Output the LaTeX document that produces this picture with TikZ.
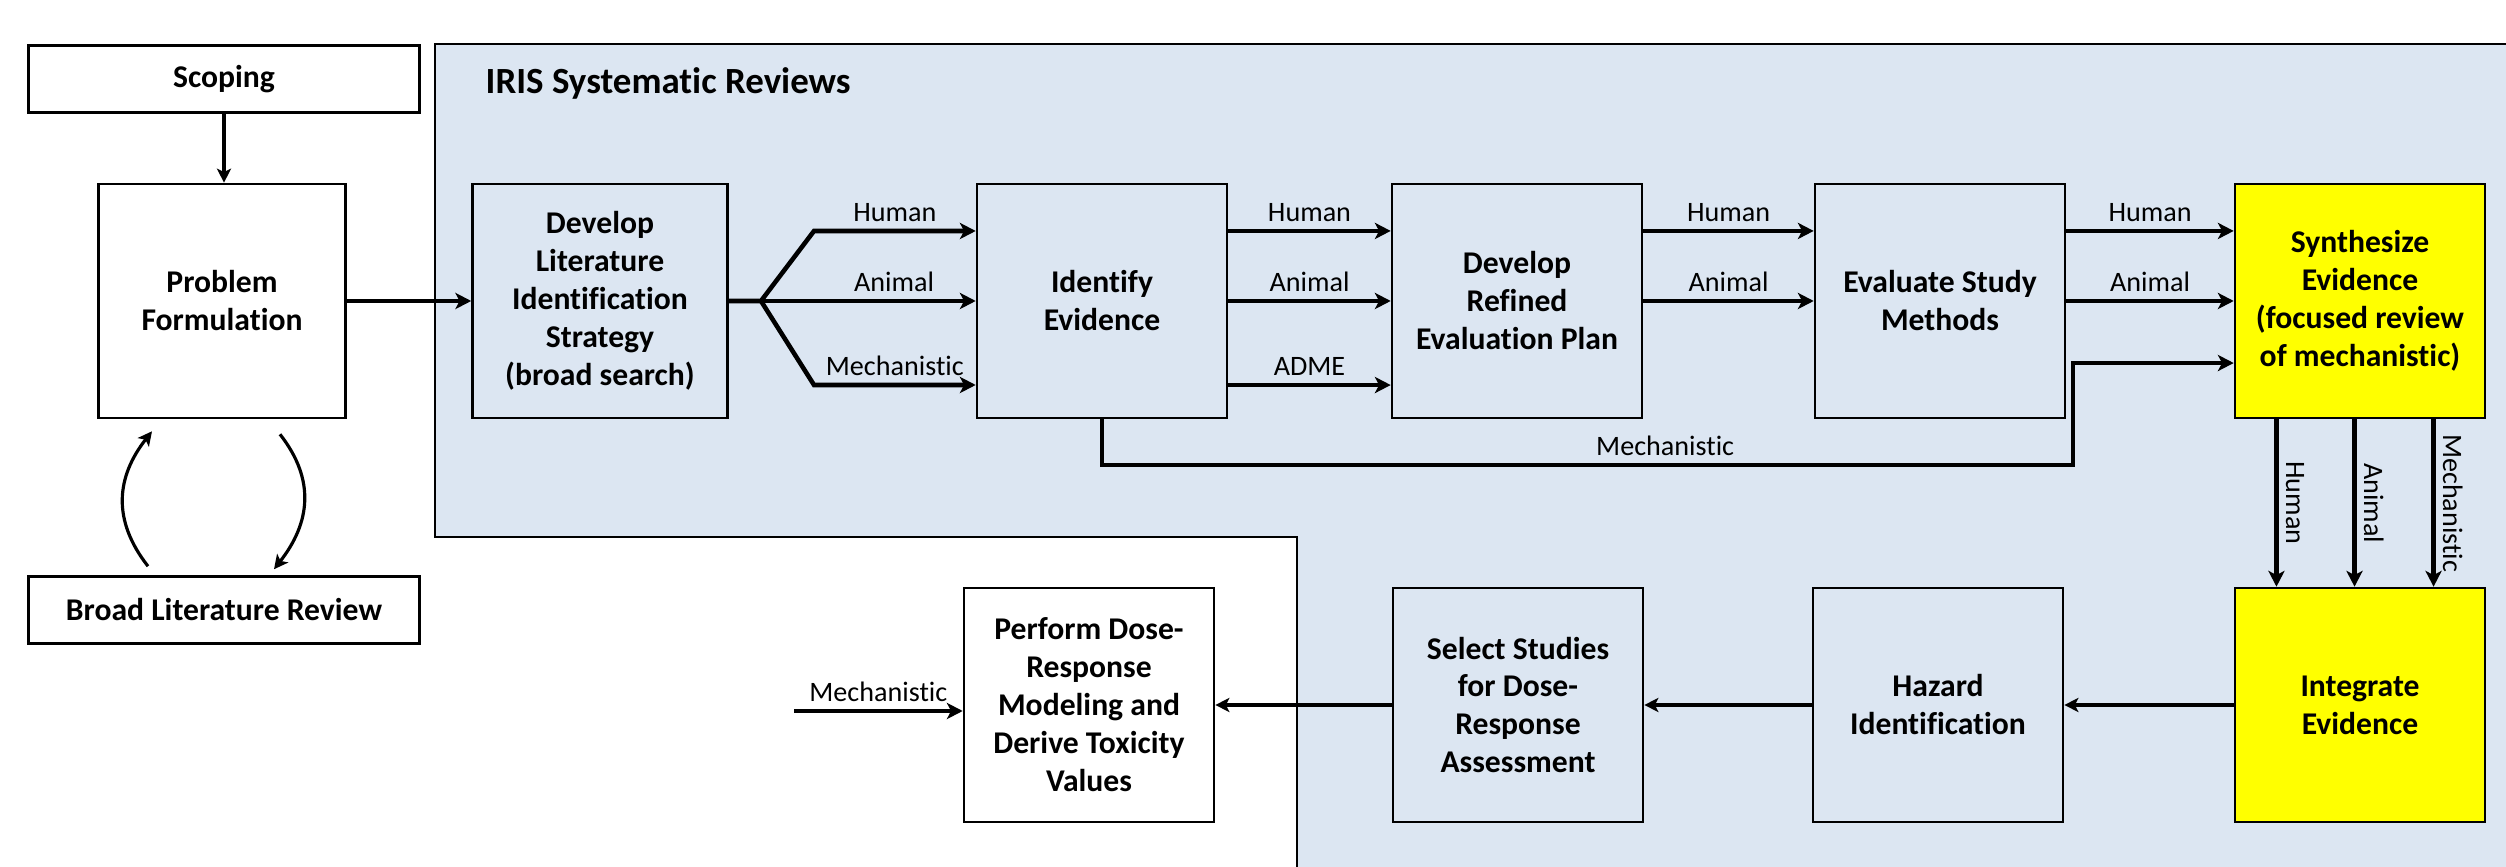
\documentclass[tikz,border=0pt]{standalone}
\usepackage{fontspec}
\setmainfont{Carlito}[Ligatures=NoCommon]
\usepackage{xcolor}
\usetikzlibrary{arrows.meta}
\usetikzlibrary{calc}
\definecolor{irisblue}{HTML}{DCE6F2}
\definecolor{hiyellow}{HTML}{FFFF00}

\begin{document}
\begin{tikzpicture}[x=0.01cm, y=0.01cm,
    >={Stealth[length=4.5pt, width=4.6pt, inset=1.2pt]},
    box/.style={draw, line width=0.7pt, fill=white, align=center, minimum width=2.5cm, minimum height=2.34cm, font=\fontsize{9}{10.8}\selectfont\bfseries},
    bluebox/.style={box, fill=irisblue},
    hibox/.style={box, fill=hiyellow},
    flow/.style={->, line width=1.3pt},
    thinflow/.style={->, line width=0.9pt, >={Stealth[length=4pt, width=4pt, inset=1pt]}},
    lbl/.style={midway, above, inner sep=2pt, font=\fontsize{8}{9.6}\selectfont},
    vlbl/.style={midway, anchor=south, rotate=-90, inner sep=2pt, font=\fontsize{8}{9.6}\selectfont},
    title/.style={inner sep=0pt, font=\fontsize{10.5}{12.6}\selectfont\bfseries}]
              \useasboundingbox (0,0) rectangle (2506,867);
              \fill[irisblue] (435,823) -- (2506,823) -- (2506,0) -- (1297,0) -- (1297,330) -- (435,330) -- cycle;
              \draw[line width=0.8pt] (2506,823) -- (435,823) -- (435,330) -- (1297,330) -- (1297,0);
              \node[title, anchor=west] (iris) at (485,784) {IRIS Systematic Reviews};

              \node[box, minimum width=3.91cm, minimum height=0.67cm] (scoping) at (224,788) {Scoping};
              \node[box, minimum width=2.47cm] (problem) at (222,566) {Problem\\Formulation};
              \node[box, minimum width=3.91cm, minimum height=0.67cm] (broad) at (224,257) {Broad Literature Review};

              \node[bluebox, minimum width=2.55cm] (dlis) at (600,566) {Develop\\Literature\\Identification\\Strategy\\(broad search)};
              \node[bluebox] (ident) at (1102,566) {Identify\\Evidence};
              \node[bluebox] (refined) at (1517,566) {Develop\\Refined\\Evaluation Plan};
              \node[bluebox] (evalm) at (1940,566) {Evaluate Study\\Methods};
              \node[hibox] (synth) at (2360,566) {Synthesize\\Evidence\\(focused review\\of mechanistic)};

              \node[hibox] (integ) at (2360,162) {Integrate\\Evidence};
              \node[bluebox] (hazard) at (1938,162) {Hazard\\Identification};
              \node[bluebox] (select) at (1518,162) {Select Studies\\for Dose-\\Response\\Assessment};
              \node[box] (perform) at (1089,162) {Perform Dose-\\Response\\Modeling and\\Derive Toxicity\\Values};

              \coordinate (fork) at (761,566);
              \coordinate (forkh) at (814,636);
              \coordinate (forkm) at (814,482);
              \coordinate (mechturn) at (2073,402);
              \coordinate (mechin) at (794,156);

              \draw[thinflow] (scoping.south) -- (scoping.south |- problem.north);
              \draw[thinflow] ($(broad.north)+(-76,9)$) .. controls +(-36,46) and +(-36,-46) .. ($(problem.south)+(-70,-12)$);
              \draw[thinflow] ($(problem.south)+(58,-15)$) .. controls +(36,-46) and +(36,46) .. ($(broad.north)+(50,6)$);
              \draw[flow] (problem.east) -- (dlis.west);

              \draw[flow] (dlis.east) -- (fork) -- (forkh) -- (forkh -| ident.west) node[lbl]{Human};
              \draw[flow] (fork) -- (ident.west) node[lbl, pos=0.62]{Animal};
              \draw[flow] (fork) -- (forkm) -- (forkm -| ident.west) node[lbl]{Mechanistic};

              \draw[flow] ([yshift=7mm]ident.east) -- ([yshift=7mm]refined.west) node[lbl]{Human};
              \draw[flow] (ident.east) -- (refined.west) node[lbl]{Animal};
              \draw[flow] ([yshift=-8.4mm]ident.east) -- ([yshift=-8.4mm]refined.west) node[lbl]{ADME};

              \draw[flow] ([yshift=7mm]refined.east) -- ([yshift=7mm]evalm.west) node[lbl]{Human};
              \draw[flow] (refined.east) -- (evalm.west) node[lbl]{Animal};

              \draw[flow] ([yshift=7mm]evalm.east) -- ([yshift=7mm]synth.west) node[lbl]{Human};
              \draw[flow] (evalm.east) -- (synth.west) node[lbl]{Animal};
              \draw[flow] (ident.south) |- (mechturn) node[lbl, pos=0.79]{Mechanistic} |- ([yshift=-6.2mm]synth.west);

              \draw[flow] ([xshift=-8.35mm]synth.south) -- ([xshift=-8.35mm]integ.north) node[vlbl]{Human};
              \draw[flow] ([xshift=-0.55mm]synth.south) -- ([xshift=-0.55mm]integ.north) node[vlbl]{Animal};
              \draw[flow] ([xshift=7.35mm]synth.south) -- ([xshift=7.35mm]integ.north) node[vlbl]{Mechanistic};

              \draw[thinflow] (integ.west) -- (hazard.east);
              \draw[thinflow] (hazard.west) -- (select.east);
              \draw[thinflow] (select.west) -- (perform.east);
              \draw[flow] (mechin) -- (mechin -| perform.west) node[lbl]{Mechanistic};
            \end{tikzpicture}
\end{document}
